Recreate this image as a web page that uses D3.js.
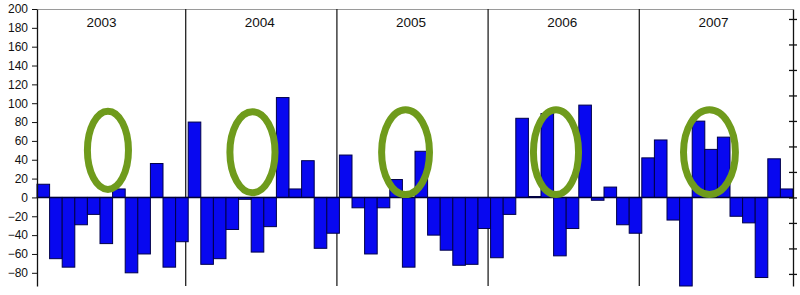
<!DOCTYPE html>
<html>
<head>
<meta charset="utf-8">
<script src="https://cdn.jsdelivr.net/npm/d3@7"></script>
<style>
  html, body { margin: 0; padding: 0; background: #fff; }
  svg { display: block; font-family: "Liberation Sans", Arial, sans-serif; }
</style>
</head>
<body>
<svg class="chart" width="800" height="295"></svg>
<script>
// monthly values, one array per year
const years = ["2003", "2004", "2005", "2006", "2007"];
const v2003 = [14, -65, -74, -29, -18, -49, 9, -80, -60, 36, -74, -47];
const v2004 = [80, -71, -65, -34, -2, -58, -31, 106, 9, 39, -54, -38];
const v2005 = [45, -11, -60, -11, 19, -74, 49, -40, -56, -72, -71, -33];
const v2006 = [-64, -18, 84, 1, 89, -62, -33, 98, -3, 11, -29, -38];
const v2007 = [42, 61, -24, -94, 81, 51, 64, -20, -27, -85, 41, 9];
const leftTicks = [200, 180, 160, 140, 120, 100, 80, 60, 40, 20, 0, -20, -40, -60, -80];
const rightTicks = [-3, -2, -1, 0, 1, 2, 3, 4, 5, 6, 7];

// hand drawn green rings: centre month (fractional), centre value, half sizes
const ringMonth = [5.63, 17.1, 29.25, 41.19, 53.37];
const ringValue = [50, 48, 48, 48, 48];
const ringHalfMonths = [1.63, 1.79, 1.9, 1.79, 2.06];
const ringHalfValue = [41.5, 43, 45, 45, 45];

const values = [v2003, v2004, v2005, v2006, v2007].flat();

const plotLeft = 37, plotRight = 793, plotTop = 9, plotBottom = 286;

const svg = d3.select('svg.chart');

const x = d3.scaleBand()
    .domain(d3.range(values.length))
    .range([plotLeft, plotRight])
    .padding(0);
const xm = d3.scaleLinear().domain([0, values.length]).range([plotLeft, plotRight]);
const y = d3.scaleLinear().domain([-94, 200]).range([plotBottom, plotTop]);
const y2 = d3.scaleLinear().domain([-94 / 27.06, 200 / 27.06]).range([plotBottom, plotTop]);

// top frame line
svg.append('line')
    .attr('x1', plotLeft).attr('x2', plotRight)
    .attr('y1', plotTop + 0.5).attr('y2', plotTop + 0.5)
    .attr('stroke', '#9a9a9a');

// year dividers
svg.append('g')
  .selectAll('line')
  .data(d3.range(1, years.length))
  .join('line')
    .attr('x1', d => x(d * 12) - 2.5)
    .attr('x2', d => x(d * 12) - 2.5)
    .attr('y1', plotTop).attr('y2', plotBottom)
    .attr('stroke', '#222')
    .attr('stroke-width', 1.3);

// year labels
svg.append('g')
  .selectAll('text')
  .data(years)
  .join('text')
    .attr('x', (d, i) => xm(i * 12 + 6) - (i === 0 ? 11 : 4))
    .attr('y', 26.5)
    .attr('text-anchor', 'middle')
    .attr('font-size', 13.5)
    .attr('fill', '#111')
    .text(d => d);

// bars
svg.append('g')
  .selectAll('rect')
  .data(values)
  .join('rect')
    .attr('x', (d, i) => x(i))
    .attr('width', x.bandwidth())
    .attr('y', d => y(Math.max(0, d)))
    .attr('height', d => Math.abs(y(d) - y(0)))
    .attr('fill', '#0808f0')
    .attr('stroke', '#00004a')
    .attr('stroke-width', 1);

// zero line
svg.append('line')
    .attr('x1', plotLeft).attr('x2', plotRight)
    .attr('y1', y(0)).attr('y2', y(0))
    .attr('stroke', '#00003a')
    .attr('stroke-width', 1.4);

// left axis
const yAxis = svg.append('g')
    .attr('transform', `translate(${plotLeft},0)`)
    .call(d3.axisLeft(y).tickValues(leftTicks).tickSize(5).tickPadding(4).tickSizeOuter(0));
yAxis.select('.domain').attr('stroke', '#111').attr('stroke-width', 1.3);
yAxis.selectAll('.tick line').attr('stroke', '#111');
yAxis.selectAll('.tick text')
    .attr('font-size', 12)
    .attr('font-family', '"Liberation Sans", Arial, sans-serif')
    .attr('fill', '#111');

// right axis, ticks only
const y2Axis = svg.append('g')
    .attr('transform', `translate(${plotRight},0)`)
    .call(d3.axisRight(y2).tickValues(rightTicks).tickSize(4).tickFormat('').tickSizeOuter(0));
y2Axis.select('.domain').attr('stroke', '#111').attr('stroke-width', 1.3);
y2Axis.selectAll('.tick line').attr('x1', -4).attr('stroke', '#111').attr('stroke-width', 1.3);

// green rings
svg.append('g')
  .selectAll('ellipse')
  .data(ringMonth)
  .join('ellipse')
    .attr('cx', d => xm(d))
    .attr('cy', (d, i) => y(ringValue[i]))
    .attr('rx', (d, i) => xm(ringHalfMonths[i]) - xm(0))
    .attr('ry', (d, i) => y(0) - y(ringHalfValue[i]))
    .attr('fill', 'none')
    .attr('stroke', '#6f9b1c')
    .attr('stroke-width', 7);
</script>
</body>
</html>
